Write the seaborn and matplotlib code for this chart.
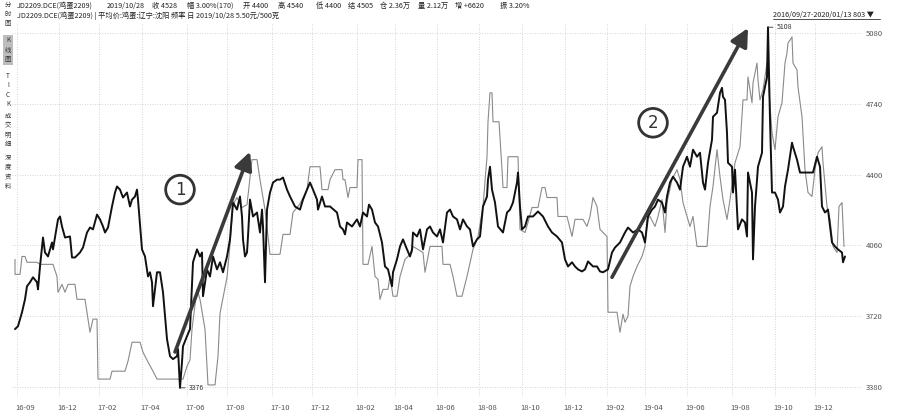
import matplotlib
matplotlib.use("Agg")
import matplotlib.pyplot as plt
import matplotlib.transforms as mtransforms
from matplotlib.lines import Line2D
import seaborn as sns

# trading-day index (0 = 2016/09/27) and daily close of the egg futures contract
futures_day = [0, 3, 7, 10, 12, 15, 18, 22, 23, 25, 28, 30, 33, 37, 38, 40, 43, 45, 47, 50,
               55, 57, 60, 65, 68, 72, 75, 78, 82, 85, 88, 90, 93, 97, 100, 102, 105, 108, 112, 115,
               117, 120, 122, 123, 127, 130, 133, 135, 137, 138, 142, 145, 148, 150, 152, 155, 158, 162, 163, 165,
               167, 168, 172, 175, 178, 182, 185, 187, 188, 192, 195, 198, 202, 205, 208, 212, 215, 218, 222, 225,
               227, 228, 230, 232, 233, 235, 238, 242, 243, 245, 247, 248, 250, 252, 255, 258, 262, 265, 268, 272,
               275, 280, 285, 288, 292, 295, 298, 302, 303, 307, 310, 315, 322, 325, 328, 330, 332, 337, 342, 345,
               348, 352, 354, 357, 360, 363, 367, 370, 373, 377, 378, 382, 385, 388, 392, 395, 397, 398, 402, 405,
               408, 412, 415, 418, 422, 425, 428, 432, 435, 438, 442, 445, 448, 452, 455, 458, 462, 465, 468, 472,
               473, 475, 477, 480, 483, 488, 492, 495, 498, 502, 503, 505, 507, 510, 513, 518, 523, 528, 533, 537,
               542, 547, 550, 553, 557, 560, 563, 567, 570, 573, 578, 582, 585, 588, 593, 597, 600, 605, 610, 613,
               618, 623, 627, 630, 633, 637, 640, 643, 647, 650, 652, 655, 658, 662, 665, 668, 672, 675, 678, 682,
               685, 688, 690, 693, 697, 698, 702, 705, 707, 708, 710, 712, 713, 717, 718, 720, 723, 727, 730, 732,
               733, 737, 738, 740, 743, 747, 748, 752, 753, 755, 757, 760, 763, 765, 768, 770, 773, 777, 778, 782,
               785, 790, 795, 798, 802, 805, 807, 810, 813, 817, 820, 823, 827, 828, 830]
futures_price = [3658, 3672, 3739, 3801, 3864, 3883, 3907, 3883, 3849, 3959, 4098, 4026, 4007, 4074, 4041, 4098, 4185, 4199, 4151, 4098,
                 4103, 4002, 4002, 4026, 4050, 4122, 4146, 4137, 4208, 4185, 4151, 4122, 4146, 4247, 4314, 4343, 4328, 4290, 4314, 4247,
                 4280, 4295, 4328, 4280, 4041, 4007, 3911, 3931, 3883, 3768, 3931, 3931, 3835, 3720, 3610, 3528, 3514, 3528, 3562, 3376,
                 3500, 3576, 3624, 3658, 3979, 4041, 4007, 4026, 3816, 3945, 3911, 4007, 3945, 3979, 3931, 4007, 4089, 4266, 4232, 4295,
                 4199, 4089, 4007, 4026, 4103, 4280, 4199, 4218, 4185, 4122, 4232, 4151, 3883, 4232, 4314, 4362, 4376, 4376, 4386, 4328,
                 4295, 4247, 4232, 4280, 4328, 4362, 4328, 4280, 4232, 4295, 4247, 4247, 4218, 4151, 4137, 4113, 4170, 4151, 4185, 4151,
                 4218, 4199, 4256, 4232, 4170, 4151, 4074, 3959, 3945, 3864, 3931, 3993, 4055, 4089, 4041, 4007, 4041, 4122, 4103, 4137,
                 4041, 4137, 4151, 4122, 4103, 4137, 4074, 4218, 4232, 4199, 4185, 4137, 4185, 4151, 4137, 4055, 4089, 4103, 4247, 4295,
                 4376, 4438, 4328, 4266, 4151, 4122, 4218, 4232, 4266, 4362, 4410, 4247, 4137, 4151, 4199, 4199, 4223, 4199, 4151, 4122,
                 4103, 4074, 3993, 3959, 3979, 3959, 3945, 3935, 3945, 3983, 3959, 3959, 3935, 3931, 3945, 4026, 4050, 4074, 4122, 4146,
                 4122, 4137, 4122, 4074, 4199, 4232, 4247, 4280, 4266, 4218, 4295, 4362, 4390, 4362, 4328, 4438, 4486, 4438, 4520, 4486,
                 4505, 4362, 4328, 4457, 4568, 4678, 4697, 4793, 4817, 4774, 4759, 4601, 4457, 4438, 4314, 4424, 4137, 4185, 4170, 4103,
                 4410, 4314, 3993, 4247, 4438, 4505, 4774, 4869, 5108, 4663, 4314, 4314, 4280, 4218, 4247, 4343, 4424, 4553, 4534, 4472,
                 4410, 4410, 4410, 4410, 4486, 4438, 4247, 4218, 4232, 4074, 4055, 4041, 4026, 3979, 4007]

# spot price: average egg price, Shenyang (Liaoning), yuan / 500 g x 1000
spot_day = [0, 0, 5, 7, 10, 12, 22, 25, 38, 42, 43, 47, 50, 53, 60, 62, 70, 73, 75, 78,
            82, 83, 95, 97, 110, 113, 117, 125, 128, 133, 138, 142, 168, 172, 175, 177, 182, 185, 190, 193,
            200, 203, 205, 212, 215, 218, 222, 227, 232, 237, 242, 245, 250, 255, 265, 268, 275, 278, 285, 292,
            295, 305, 307, 313, 315, 320, 327, 328, 330, 333, 335, 342, 343, 347, 348, 353, 357, 360, 363, 365,
            368, 373, 375, 378, 382, 385, 390, 397, 398, 408, 410, 415, 427, 428, 435, 438, 442, 447, 452, 458,
            463, 468, 472, 473, 475, 477, 478, 484, 487, 488, 492, 493, 503, 505, 510, 513, 517, 523, 527, 530,
            532, 542, 543, 552, 557, 560, 568, 572, 575, 578, 582, 585, 592, 593, 602, 605, 608, 610, 613, 615,
            618, 622, 627, 630, 632, 635, 640, 643, 647, 650, 652, 657, 662, 665, 668, 672, 675, 678, 682, 692,
            695, 698, 702, 705, 708, 712, 715, 720, 725, 728, 732, 733, 737, 738, 742, 743, 745, 748, 752, 757,
            760, 763, 767, 770, 772, 773, 777, 778, 782, 783, 787, 790, 793, 797, 800, 803, 807, 808, 812, 815,
            818, 822, 824, 827, 829]
spot_price = [3993, 3921, 3921, 4007, 4007, 3979, 3979, 3969, 3969, 3911, 3835, 3873, 3835, 3873, 3873, 3801, 3801, 3706, 3643, 3706,
              3706, 3418, 3418, 3456, 3456, 3504, 3595, 3595, 3547, 3500, 3456, 3418, 3418, 3480, 3510, 3658, 3850, 3801, 3658, 3390,
              3390, 3528, 3734, 3907, 4065, 4256, 4290, 4242, 4256, 4472, 4472, 4376, 4232, 4017, 4017, 4113, 4113, 4218, 4260, 4328,
              4438, 4438, 4328, 4328, 4376, 4424, 4424, 4376, 4376, 4290, 4338, 4338, 4472, 4472, 3969, 3969, 4055, 3911, 3897, 3801,
              3849, 3849, 3911, 3816, 3816, 3911, 3993, 4026, 4055, 4026, 3931, 4055, 4055, 3969, 3969, 3911, 3816, 3816, 3911, 4041,
              4103, 4247, 4486, 4654, 4793, 4793, 4654, 4654, 4424, 4338, 4338, 4486, 4486, 4137, 4122, 4170, 4242, 4242, 4338, 4338,
              4290, 4290, 4199, 4199, 4103, 4185, 4185, 4151, 4199, 4290, 4247, 4137, 4103, 3739, 3739, 3643, 3730, 3691, 3720, 3864,
              3911, 3959, 4007, 4055, 4185, 4199, 4151, 4199, 4280, 4122, 4266, 4376, 4424, 4376, 4266, 4199, 4151, 4199, 4055, 4055,
              4247, 4343, 4520, 4390, 4280, 4185, 4280, 4457, 4534, 4759, 4759, 4869, 4745, 4840, 4936, 4855, 4759, 4807, 4936, 4601,
              4520, 4678, 4745, 4936, 4984, 5032, 5061, 4936, 4903, 4821, 4678, 4424, 4314, 4295, 4424, 4505, 4534, 4457, 4247, 4185,
              4055, 4026, 4247, 4266, 4055]

tick_day = [2, 44, 84, 127, 172, 212, 257, 297, 342, 380, 422, 464, 507, 550, 592, 630, 672, 717, 760, 800]
tick_label = ["16-09", "16-12", "17-02", "17-04", "17-06", "17-08", "17-10", "17-12", "18-02", "18-04",
              "18-06", "18-08", "18-10", "18-12", "19-02", "19-04", "19-06", "19-08", "19-10", "19-12"]
price_ticks = [3380, 3720, 4060, 4400, 4740, 5080]

header_items = ["JD2209.DCE(鸡蛋2209)", "2019/10/28", "收 4528", "幅 3.00%(170)", "开 4400", "高 4540",
                "低 4400", "结 4505", "仓 2.36万", "量 2.12万", "增 +6620", "振 3.20%"]
header_x = [17, 107, 152, 187, 243, 278, 316, 348, 380, 418, 455, 500]
series_line = "JD2209.DCE(鸡蛋2209) | 平均价:鸡蛋:辽宁:沈阳 频率 日 2019/10/28 5.50元/500克"
side_tabs = ["分时图", "K线图", "TICK", "成交明细", "深度资料"]
side_tab_y = [14, 50, 90, 130, 172]

sns.set_theme(style="white")
plt.rcParams["font.family"] = ["Noto Sans CJK SC", "DejaVu Sans"]

W, H = 900, 417
fig = plt.figure(figsize=(9, 4.17), dpi=100)
ax = fig.add_axes([12 / W, 20 / H, 850 / W, 375 / H])

sns.lineplot(x=spot_day, y=spot_price, estimator=None, sort=False,
             color="#8a8a8a", lw=0.8, ax=ax)
sns.lineplot(x=futures_day, y=futures_price, estimator=None, sort=False,
             color="#111111", lw=1.4, ax=ax)

ax.set_xlim(-3, 847)
ax.set_ylim(3332, 5133)
ax.set_xlabel("")
ax.set_ylabel("")
for s in ax.spines.values():
    s.set_visible(False)

ax.set_xticks(tick_day)
ax.set_xticklabels(tick_label)
ax.set_yticks(price_ticks)
ax.yaxis.tick_right()
ax.tick_params(length=0, labelsize=5.5, labelcolor="#555555", pad=5)
ax.tick_params(axis="y", pad=3)
offset = mtransforms.ScaledTranslation(8 / 100, 0, fig.dpi_scale_trans)
for lab in ax.get_xticklabels():
    lab.set_transform(lab.get_transform() + offset)
ax.grid(True, color="#c8c8c8", lw=0.6, ls=(0, (1, 2)))

# max / min markers
ax.annotate("5108", xy=(753, 5108), xytext=(6, 0), textcoords="offset points",
            fontsize=5, va="center", color="#333333",
            arrowprops=dict(arrowstyle="-", lw=0.6, color="#333333", shrinkA=0, shrinkB=0))
ax.annotate("3376", xy=(165, 3376), xytext=(6, 0), textcoords="offset points",
            fontsize=5, va="center", color="#333333",
            arrowprops=dict(arrowstyle="-", lw=0.6, color="#333333", shrinkA=0, shrinkB=0))

# trend arrows and circled labels
arrow_kw = dict(arrowstyle="-|>,head_length=0.9,head_width=0.45", lw=2.6,
                color="#3a3a3a", shrinkA=0, shrinkB=0, mutation_scale=12)
ax.annotate("", xy=(235, 4510), xytext=(160, 3548), arrowprops=arrow_kw)
ax.annotate("", xy=(733, 5104), xytext=(597, 3907), arrowprops=arrow_kw)
circle_kw = dict(boxstyle="circle,pad=0.32", fc="white", ec="#333333", lw=2)
ax.text(165, 4328, "1", ha="center", va="center", fontsize=12, color="#333333",
        family="DejaVu Sans", bbox=circle_kw)
ax.text(638, 4649, "2", ha="center", va="center", fontsize=12, color="#333333",
        family="DejaVu Sans", bbox=circle_kw)

# header
for txt, x in zip(header_items, header_x):
    fig.text(x / W, 1 - 6 / H, txt, fontsize=5.2, va="center", color="#222222")
fig.text(17 / W, 1 - 16 / H, series_line, fontsize=5.2, va="center", color="#222222")
fig.text(773 / W, 1 - 15 / H, "2016/09/27-2020/01/13 803 ▼", fontsize=5.2,
         va="center", color="#222222")
fig.add_artist(Line2D([773 / W, 880 / W], [1 - 19 / H, 1 - 19 / H], lw=0.6, color="#333333"))

# left-side tabs
for tab, y in zip(side_tabs, side_tab_y):
    kw = {}
    if tab == "K线图":
        kw["bbox"] = dict(boxstyle="square,pad=0.25", fc="#bdbdbd", ec="none")
    fig.text(8 / W, 1 - y / H, "\n".join(tab), fontsize=4.6, ha="center", va="center",
             linespacing=1.25, color="#333333", **kw)

fig.savefig("out.png", dpi=100)
